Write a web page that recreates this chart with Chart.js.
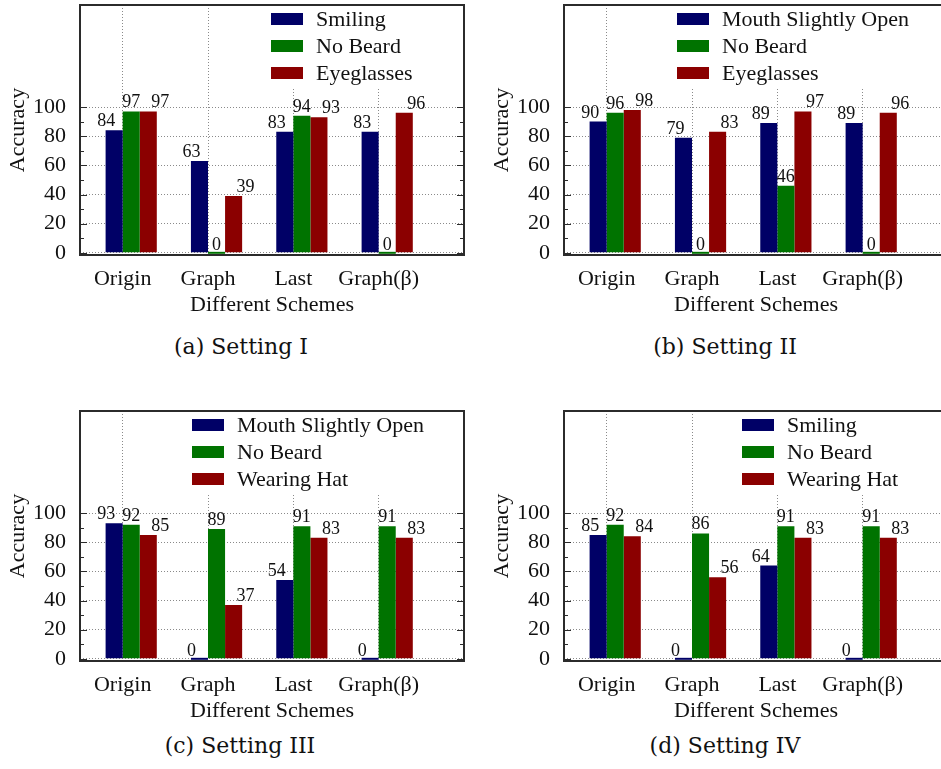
<!DOCTYPE html>
<html>
<head>
<meta charset="utf-8">
<script src="https://cdn.jsdelivr.net/npm/chart.js@4.4.0/dist/chart.umd.min.js"></script>
<style>
    body { margin: 0; background: #fff; }
    #page { position: relative; width: 941px; height: 769px; overflow: hidden; }
    .panel { position: absolute; width: 470px; height: 320px; }
    .caption { position: absolute; width: 300px; text-align: center; font-family: "DejaVu Serif", serif; font-size: 22px; line-height: 26px; color: #111; }
</style>
</head>
<body>
<div id="page">
    <div class="panel" style="left:0px;top:0px"><canvas id="chartA" width="470" height="320"></canvas></div>
    <div class="panel" style="left:484px;top:0px"><canvas id="chartB" width="470" height="320"></canvas></div>
    <div class="panel" style="left:0px;top:406px"><canvas id="chartC" width="470" height="320"></canvas></div>
    <div class="panel" style="left:484px;top:406px"><canvas id="chartD" width="470" height="320"></canvas></div>
    <div class="caption" style="left:91px;top:334px">(a) Setting I</div>
    <div class="caption" style="left:575px;top:334px">(b) Setting II</div>
    <div class="caption" style="left:90px;top:733px">(c) Setting III</div>
    <div class="caption" style="left:575px;top:733px">(d) Setting IV</div>
</div>
<script>
// categories and ticks
var schemes = ['Origin', 'Graph', 'Last', 'Graph(β)'];
var yTicks = [0, 20, 40, 60, 80, 100];

// (a) Setting I
var labelsA = ['Smiling', 'No Beard', 'Eyeglasses'];
var smilingA = [84, 63, 83, 83];
var noBeardA = [97, 0, 94, 0];
var eyeglassesA = [97, 39, 93, 96];

// (b) Setting II
var labelsB = ['Mouth Slightly Open', 'No Beard', 'Eyeglasses'];
var mouthB = [90, 79, 89, 89];
var noBeardB = [96, 0, 46, 0];
var eyeglassesB = [98, 83, 97, 96];

// (c) Setting III
var labelsC = ['Mouth Slightly Open', 'No Beard', 'Wearing Hat'];
var mouthC = [93, 0, 54, 0];
var noBeardC = [92, 89, 91, 91];
var hatC = [85, 37, 83, 83];

// (d) Setting IV
var labelsD = ['Smiling', 'No Beard', 'Wearing Hat'];
var smilingD = [85, 0, 64, 0];
var noBeardD = [92, 86, 91, 91];
var hatD = [84, 56, 83, 83];

var colors = ['#000066', '#007300', '#8b0000'];
var labelShift = [-8, 0, 12];
var serif = '"Liberation Serif", "Times New Roman", serif';
var inkColor = '#111';

// frame, key and value labels in gnuplot style
var gnuplotLook = {
    id: 'gnuplotLook',
    afterDatasetsDraw: function (chart) {
        var ctx = chart.ctx;
        ctx.save();
        ctx.font = '18px ' + serif;
        ctx.fillStyle = inkColor;
        ctx.textAlign = 'center';
        ctx.textBaseline = 'alphabetic';
        chart.data.datasets.forEach(function (ds, d) {
            if (ds.spacer) return;
            var meta = chart.getDatasetMeta(d);
            meta.data.forEach(function (bar, i) {
                var v = ds.data[i].y;
                ctx.fillText(String(v), bar.x + labelShift[d - 1], bar.y - 4);
            });
        });
        ctx.restore();
    },
    afterDraw: function (chart, args, opts) {
        var ctx = chart.ctx;
        var ca = chart.chartArea;
        var yScale = chart.scales.y;
        ctx.save();

        // key box
        var x0 = ca.right - opts.keyOffset;
        ctx.fillStyle = '#fff';
        ctx.fillRect(x0 - 8, ca.top, ca.right - x0 + 8, 82);
        var k = 0;
        ctx.font = '22px ' + serif;
        ctx.textBaseline = 'middle';
        ctx.textAlign = 'left';
        chart.data.datasets.forEach(function (ds) {
            if (ds.spacer) return;
            ctx.fillStyle = ds.backgroundColor;
            ctx.fillRect(x0, ca.top + 8 + 27 * k, 32, 12);
            ctx.fillStyle = inkColor;
            ctx.fillText(ds.label, x0 + 45, ca.top + 15 + 27 * k);
            k++;
        });

        // frame
        ctx.strokeStyle = '#2b2b2b';
        ctx.lineWidth = 2;
        ctx.strokeRect(ca.left, ca.top, ca.right - ca.left, ca.bottom - ca.top);

        // y ticks on both sides
        ctx.lineWidth = 1;
        for (var v = 0; v <= 100; v += 10) {
            var py = Math.round(yScale.getPixelForValue(v)) + 0.5;
            var len = (v % 20 === 0) ? 7 : 4;
            ctx.beginPath();
            ctx.moveTo(ca.left, py);
            ctx.lineTo(ca.left + len, py);
            ctx.moveTo(ca.right, py);
            ctx.lineTo(ca.right - len, py);
            ctx.stroke();
        }
        ctx.restore();
    }
};

function noScalePadding(axis) {
    axis.paddingTop = 0;
    axis.paddingBottom = 0;
    axis.paddingLeft = 0;
    axis.paddingRight = 0;
}

function makeChart(canvasId, names, series, keyOffset) {
    var datasets = [{
        label: '',
        spacer: true,
        data: schemes.map(function (s, i) { return { x: i, y: null }; }),
        backgroundColor: 'rgba(0,0,0,0)'
    }];
    series.forEach(function (values, s) {
        datasets.push({
            label: names[s],
            data: values.map(function (v, i) { return { x: i, y: v }; }),
            backgroundColor: colors[s],
            borderWidth: 0,
            minBarLength: 2
        });
    });

    var ctx = document.getElementById(canvasId);
    if (!ctx) {
        console.error("Canvas element with ID '" + canvasId + "' not found.");
        return null;
    }
    return new Chart(ctx, {
        type: 'bar',
        data: { datasets: datasets },
        options: {
            responsive: false,
            animation: false,
            devicePixelRatio: 1,
            categoryPercentage: 0.8,
            barPercentage: 1.0,
            layout: { autoPadding: false, padding: { left: 0, right: 6, top: 5, bottom: 0 } },
            scales: {
                x: {
                    type: 'linear',
                    min: -0.5,
                    max: 4,
                    offset: false,
                    afterBuildTicks: function (axis) {
                        axis.ticks = schemes.map(function (s, i) { return { value: i }; });
                    },
                    afterFit: function (axis) {
                        axis.height = 65;
                        noScalePadding(axis);
                    },
                    ticks: {
                        autoSkip: false,
                        maxRotation: 0,
                        padding: 11,
                        color: inkColor,
                        font: { family: serif, size: 22 },
                        callback: function (value) { return schemes[value]; }
                    },
                    grid: { offset: false, color: '#8a8a8a', lineWidth: 1, drawTicks: false },
                    border: { display: false, dash: [1, 2] },
                    title: {
                        display: true,
                        text: 'Different Schemes',
                        color: inkColor,
                        font: { family: serif, size: 22, lineHeight: 1.2 },
                        padding: { top: 0, bottom: 2 }
                    }
                },
                y: {
                    min: -1.5,
                    max: 170,
                    afterBuildTicks: function (axis) {
                        axis.ticks = yTicks.map(function (v) { return { value: v }; });
                    },
                    afterFit: function (axis) {
                        axis.width = 80;
                        noScalePadding(axis);
                    },
                    ticks: {
                        padding: 14,
                        color: inkColor,
                        font: { family: serif, size: 22 }
                    },
                    grid: { color: '#8a8a8a', lineWidth: 1, drawTicks: false },
                    border: { display: false, dash: [1, 2] },
                    title: {
                        display: true,
                        text: 'Accuracy',
                        color: inkColor,
                        font: { family: serif, size: 22, lineHeight: 1.2 },
                        padding: { top: 5, bottom: 0 }
                    }
                }
            },
            plugins: {
                legend: { display: false },
                tooltip: { enabled: false },
                gnuplotLook: { keyOffset: keyOffset }
            }
        },
        plugins: [gnuplotLook]
    });
}

document.addEventListener('DOMContentLoaded', function () {
    makeChart('chartA', labelsA, [smilingA, noBeardA, eyeglassesA], 193);
    makeChart('chartB', labelsB, [mouthB, noBeardB, eyeglassesB], 271);
    makeChart('chartC', labelsC, [mouthC, noBeardC, hatC], 272);
    makeChart('chartD', labelsD, [smilingD, noBeardD, hatD], 206);
});
</script>
</body>
</html>
